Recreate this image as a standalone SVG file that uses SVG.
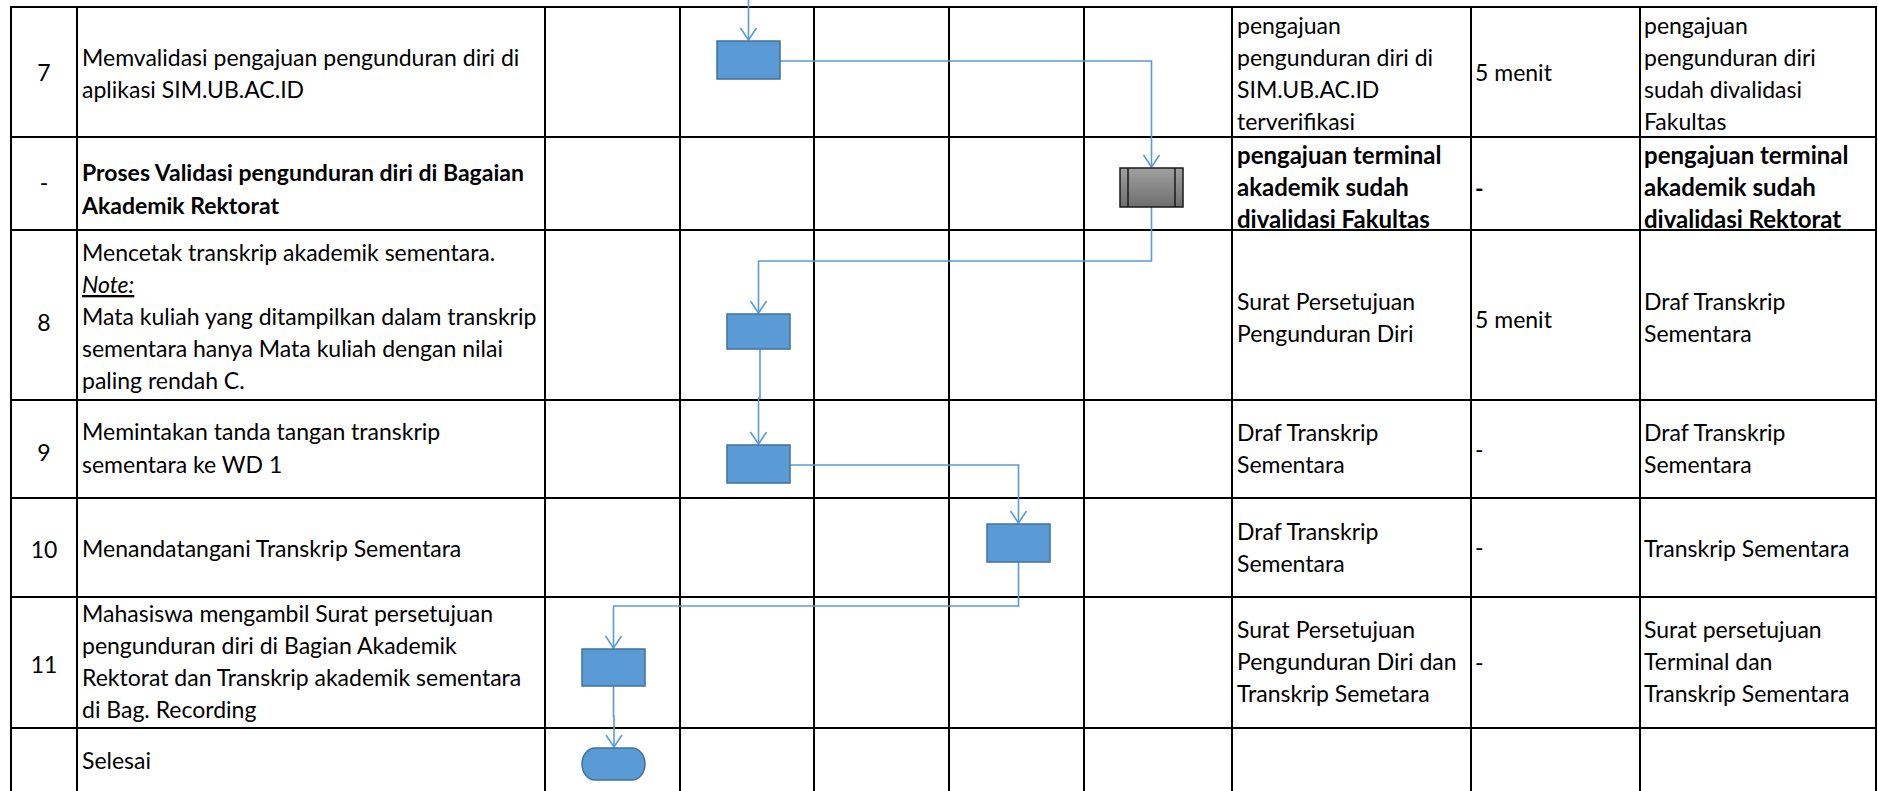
<svg xmlns="http://www.w3.org/2000/svg" width="1878" height="791" viewBox="0 0 1878 791">
<style>
text{font-family:Lato,"Liberation Sans",sans-serif;font-size:23px;fill:#000}
.b{font-weight:bold}
.bb{font-weight:bold;font-size:24px}
.c{text-anchor:middle}
.grid line{stroke:#000;stroke-width:2}
.conn polyline{fill:none;stroke:#5B9BD5;stroke-width:1.6;marker-end:url(#arr)}
.box{fill:#5B9BD5;stroke:#41719C;stroke-width:1.5}
</style>
<defs>
<marker id="arr" viewBox="-13 -9 14 18" refX="0" refY="0" markerWidth="14" markerHeight="18" markerUnits="userSpaceOnUse" orient="auto">
<path d="M-12,-8 L0,0 L-12,8" fill="none" stroke="#5B9BD5" stroke-width="1.6"/>
</marker>
<linearGradient id="gg" x1="0" y1="0" x2="0" y2="1">
<stop offset="0" stop-color="#a0a0a0"/>
<stop offset="1" stop-color="#6e6e6e"/>
</linearGradient>
</defs>
<rect width="1878" height="791" fill="#fff"/>
<g class="grid">
<line x1="10" y1="7" x2="1877" y2="7"/>
<line x1="10" y1="137" x2="1877" y2="137"/>
<line x1="10" y1="230" x2="1877" y2="230"/>
<line x1="10" y1="400" x2="1877" y2="400"/>
<line x1="10" y1="498" x2="1877" y2="498"/>
<line x1="10" y1="597" x2="1877" y2="597"/>
<line x1="10" y1="728" x2="1877" y2="728"/>
<line x1="11" y1="6" x2="11" y2="791"/>
<line x1="77" y1="6" x2="77" y2="791"/>
<line x1="545" y1="6" x2="545" y2="791"/>
<line x1="680" y1="6" x2="680" y2="791"/>
<line x1="814" y1="6" x2="814" y2="791"/>
<line x1="949" y1="6" x2="949" y2="791"/>
<line x1="1084" y1="6" x2="1084" y2="791"/>
<line x1="1232" y1="6" x2="1232" y2="791"/>
<line x1="1471" y1="6" x2="1471" y2="791"/>
<line x1="1640" y1="6" x2="1640" y2="791"/>
<line x1="1876" y1="6" x2="1876" y2="791"/>
</g>
<g id="texts">
<text class="c" x="44" y="81">7</text>
<text x="82" y="66">Memvalidasi pengajuan pengunduran diri di</text>
<text x="82" y="98">aplikasi SIM.UB.AC.ID</text>
<text x="1237" y="34">pengajuan</text>
<text x="1237" y="66">pengunduran diri di</text>
<text x="1237" y="98">SIM.UB.AC.ID</text>
<text x="1237" y="130">terverifikasi</text>
<text x="1475" y="81">5 menit</text>
<text x="1644" y="34">pengajuan</text>
<text x="1644" y="66">pengunduran diri</text>
<text x="1644" y="98">sudah divalidasi</text>
<text x="1644" y="130">Fakultas</text>

<text class="c" x="44" y="191">-</text>
<text class="b" x="82" y="181">Proses Validasi pengunduran diri di Bagaian</text>
<text class="b" x="82" y="214">Akademik Rektorat</text>
<text class="bb" x="1237" y="164">pengajuan terminal</text>
<text class="bb" x="1237" y="196">akademik sudah</text>
<text class="bb" x="1237" y="228">divalidasi Fakultas</text>
<text class="b" x="1475" y="197">-</text>
<text class="bb" x="1644" y="164">pengajuan terminal</text>
<text class="bb" x="1644" y="196">akademik sudah</text>
<text class="bb" x="1644" y="228">divalidasi Rektorat</text>

<text class="c" x="44" y="331">8</text>
<text x="82" y="261">Mencetak transkrip akademik sementara.</text>
<text x="82" y="293" font-style="italic" text-decoration="underline">Note:</text>
<text x="82" y="325">Mata kuliah yang ditampilkan dalam transkrip</text>
<text x="82" y="357">sementara hanya Mata kuliah dengan nilai</text>
<text x="82" y="389">paling rendah C.</text>
<text x="1237" y="310">Surat Persetujuan</text>
<text x="1237" y="342">Pengunduran Diri</text>
<text x="1475" y="328">5 menit</text>
<text x="1644" y="310">Draf Transkrip</text>
<text x="1644" y="342">Sementara</text>

<text class="c" x="44" y="461">9</text>
<text x="82" y="440">Memintakan tanda tangan transkrip</text>
<text x="82" y="473">sementara ke WD 1</text>
<text x="1237" y="441">Draf Transkrip</text>
<text x="1237" y="473">Sementara</text>
<text x="1475" y="458">-</text>
<text x="1644" y="441">Draf Transkrip</text>
<text x="1644" y="473">Sementara</text>

<text class="c" x="44" y="558">10</text>
<text x="82" y="557">Menandatangani Transkrip Sementara</text>
<text x="1237" y="540">Draf Transkrip</text>
<text x="1237" y="572">Sementara</text>
<text x="1475" y="556">-</text>
<text x="1644" y="557">Transkrip Sementara</text>

<text class="c" x="44" y="673">11</text>
<text x="82" y="622">Mahasiswa mengambil Surat persetujuan</text>
<text x="82" y="654">pengunduran diri di Bagian Akademik</text>
<text x="82" y="686">Rektorat dan Transkrip akademik sementara</text>
<text x="82" y="718">di Bag. Recording</text>
<text x="1237" y="638">Surat Persetujuan</text>
<text x="1237" y="670">Pengunduran Diri dan</text>
<text x="1237" y="702">Transkrip Semetara</text>
<text x="1475" y="671">-</text>
<text x="1644" y="638">Surat persetujuan</text>
<text x="1644" y="670">Terminal dan</text>
<text x="1644" y="702">Transkrip Sementara</text>

<text x="82" y="769">Selesai</text>
</g>
<g class="conn" id="connectors">
<polyline points="748.5,0 748.5,40"/>
<polyline points="780,61 1151.5,61 1151.5,167"/>
<polyline points="1151.5,207 1151.5,261 758.5,261 758.5,313"/>
<polyline points="760,349 760,398 758.5,398 758.5,444"/>
<polyline points="790,465 1018.5,465 1018.5,523"/>
<polyline points="1018.5,562 1018.5,606 613.5,606 613.5,648"/>
<polyline points="613.5,686 613.5,716 614,716 614,747"/>
</g>
<g id="n7"><rect class="box" x="717" y="41" width="63" height="38"/></g>
<g id="nrek">
<rect x="1120" y="168" width="63" height="39" fill="url(#gg)" stroke="#1a1a1a" stroke-width="1.5"/>
<line x1="1128" y1="168" x2="1128" y2="207" stroke="#1a1a1a" stroke-width="1.5"/>
<line x1="1175" y1="168" x2="1175" y2="207" stroke="#1a1a1a" stroke-width="1.5"/>
</g>
<g id="n8"><rect class="box" x="727" y="314" width="63" height="35"/></g>
<g id="n9"><rect class="box" x="727" y="445" width="63" height="38"/></g>
<g id="n10"><rect class="box" x="987" y="524" width="63" height="38"/></g>
<g id="n11"><rect class="box" x="582" y="649" width="63" height="37"/></g>
<g id="nend"><rect class="box" x="582" y="748" width="63" height="32" rx="13" ry="16"/></g>
</svg>
